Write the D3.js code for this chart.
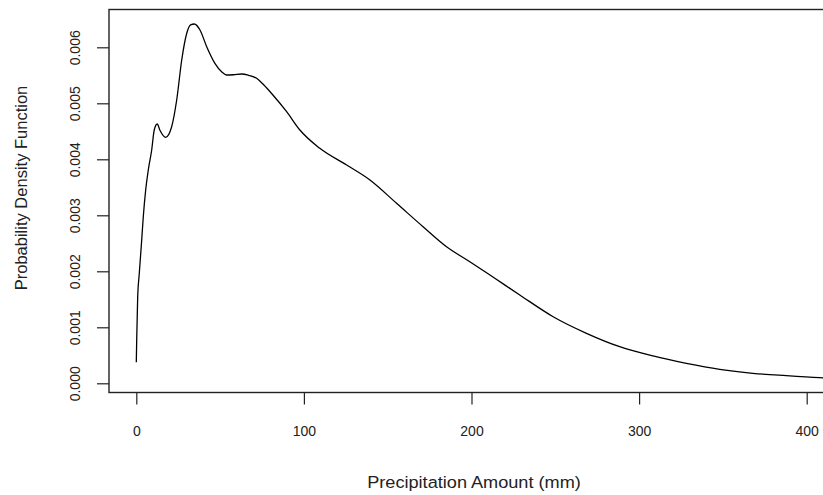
<!DOCTYPE html>
<html><head><meta charset="utf-8">
<script src="https://cdn.jsdelivr.net/npm/d3@7"></script>
<style>body{margin:0;background:#fff}svg{display:block}text{font-family:"Liberation Sans",Arial,sans-serif;fill:#222}</style>
</head><body>
<svg id="c" width="823" height="495"></svg>
<script>
const precip = [0,0.24,0.83,1.79,3.22,4.17,5.6,7.16,9.18,10.7,12.5,14.1,17.5,21.1,24.1,27.1,30.1,32.4,34.6,38,42,46.9,50.9,53.9,58,62.9,67,71.8,76,81.5,89.7,97.6,109.5,125.5,139.4,155.3,171.1,185.1,199,213.9,228.8,248.7,268.6,288.4,308.3,328.2,348.1,367.9,387.8,407.7,425];
const density = [0.000375,0.000773,0.001546,0.001964,0.002559,0.002975,0.003452,0.003809,0.004166,0.004523,0.00463,0.00452,0.004393,0.004582,0.005059,0.005773,0.00625,0.0064,0.006416,0.006309,0.00601,0.005714,0.005564,0.005505,0.00551,0.005523,0.0055,0.005446,0.00533,0.005148,0.00485,0.004523,0.004196,0.003898,0.00363,0.003214,0.002796,0.002439,0.002171,0.001875,0.001577,0.001189,0.000893,0.000654,0.000488,0.000357,0.00025,0.000179,0.000136,0.0001,0.00008];
const xTicks = [0,100,200,300,400];
const yTicks = [0,0.001,0.002,0.003,0.004,0.005,0.006];
const xTitle = "Precipitation Amount (mm)";
const yTitle = "Probability Density Function";

const svg = d3.select("#c");
const x = d3.scaleLinear().domain([0,400]).range([136.3,806.7]);
const y = d3.scaleLinear().domain([0,0.006]).range([383.3,47.3]);
const box = {l:109, t:9.5, r:850, b:392.5};

svg.append("defs").append("clipPath").attr("id","pc").append("rect")
  .attr("x",box.l).attr("y",box.t).attr("width",box.r-box.l).attr("height",box.b-box.t);

svg.append("path").datum(precip.map((p,i)=>[p,density[i]]))
  .attr("clip-path","url(#pc)")
  .attr("fill","none").attr("stroke","#000").attr("stroke-width",1.3)
  .attr("d", d3.line().x(d=>x(d[0])).y(d=>y(d[1])).curve(d3.curveMonotoneX));

svg.append("rect").attr("x",box.l).attr("y",box.t).attr("width",box.r-box.l).attr("height",box.b-box.t)
  .attr("fill","none").attr("stroke","#222").attr("stroke-width",1.4);

const font = "'Liberation Sans',Arial,sans-serif";
// x axis
const xa = svg.append("g").attr("transform",`translate(0,${box.b})`)
  .call(d3.axisBottom(x).tickValues(xTicks).tickFormat(d3.format("d")).tickSize(12).tickPadding(22));
xa.select(".domain").remove();
xa.selectAll("line").attr("stroke","#222").attr("stroke-width",1.2);
xa.selectAll("text").attr("font-size",14).attr("fill","#222").style("font-family",font);

// y axis
const ya = svg.append("g").attr("transform",`translate(${box.l},0)`)
  .call(d3.axisLeft(y).tickValues(yTicks).tickFormat(d3.format(".3f")).tickSize(12));
ya.select(".domain").remove();
ya.selectAll("line").attr("stroke","#222").attr("stroke-width",1.2);
ya.selectAll("text").attr("font-size",14).attr("fill","#222").style("font-family",font)
  .attr("x",0).attr("y",0).attr("dy",null)
  .attr("text-anchor","middle")
  .attr("transform",`translate(${80-box.l},0) rotate(-90)`);

svg.append("text").attr("transform","translate(474,488) scale(1.1,1)").attr("text-anchor","middle").attr("font-size",16.5).text(xTitle);
svg.append("text").attr("transform","translate(27,188) rotate(-90)").attr("text-anchor","middle").attr("font-size",16.5).text(yTitle);
</script>
</body></html>
